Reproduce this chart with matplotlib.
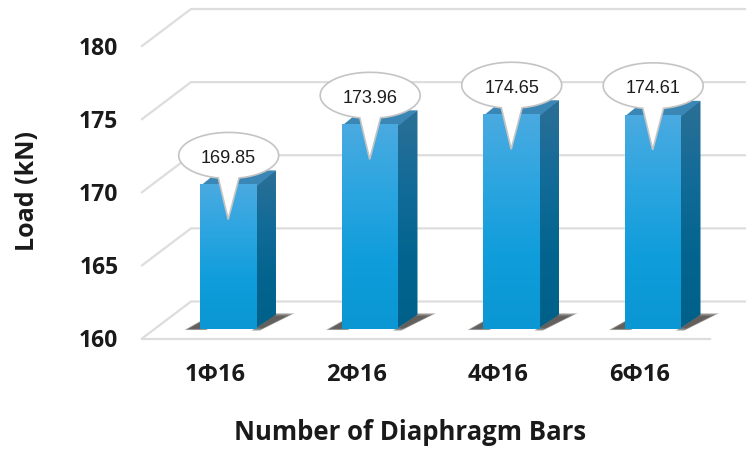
import matplotlib

matplotlib.use("Agg")
import matplotlib.pyplot as plt
import numpy as np
from matplotlib.patches import Polygon, PathPatch
from matplotlib.path import Path
from matplotlib.colors import LinearSegmentedColormap
from matplotlib.transforms import Affine2D

# --- data ---
categories = ["1Φ16", "2Φ16", "4Φ16", "6Φ16"]
loads = [169.85, 173.96, 174.65, 174.61]
y_ticks = [160, 165, 170, 175, 180]
y_label = "Load (kN)"
x_label = "Number of Diaphragm Bars"

W, H = 746, 452
plt.rcParams["font.family"] = ["Open Sans", "DejaVu Sans"]

fig = plt.figure(figsize=(W / 100, H / 100), dpi=100, facecolor="white")
# front plane of the fake 3d box
ax = fig.add_axes([142 / W, 1 - 339.5 / H, 568 / W, 292.5 / H])
ax.set_xlim(-0.519, 3.495)
ax.set_ylim(160, 180)
ax.patch.set_alpha(0)
for s in ax.spines.values():
    s.set_visible(False)
ax.set_xticks(range(len(categories)))
ax.set_xticklabels(categories, fontsize=17, fontweight="bold", color="#1a1a1a")
ax.set_yticks(y_ticks)
ax.set_yticklabels(y_ticks, fontsize=16.5, fontweight="bold", color="#1a1a1a")
ax.tick_params(axis="both", length=0)
ax.tick_params(axis="x", pad=17)
ax.tick_params(axis="y", pad=17)
for lab in ax.get_yticklabels():
    lab.set_verticalalignment("center")
    lab.set_transform(lab.get_transform() + Affine2D().translate(0, -2))
ax.set_zorder(3)

# overlay in pixels, all the 3d stuff goes here
ov = fig.add_axes([0, 0, 1, 1], zorder=1)
ov.axis("off")

FLOOR_DX, FLOOR_DY = 49, 37
BAR_DX, BAR_DY = 19, 14
BAR_IN = 10 / 37  # bars stand this far back on the floor
BAR_W = 0.40


def to_px(x, y, depth=0.0):
    p = ax.transData.transform((x, y))
    return np.array([p[0] + depth * FLOOR_DX, p[1] + depth * FLOOR_DY])


def grad_poly(verts, stops, zorder):
    cmap = LinearSegmentedColormap.from_list("g", stops)
    verts = np.array(verts)
    x0, x1 = verts[:, 0].min(), verts[:, 0].max()
    y0, y1 = verts[:, 1].min(), verts[:, 1].max()
    im = ov.imshow(
        np.linspace(0, 1, 256).reshape(-1, 1),
        cmap=cmap,
        extent=(x0, x1, y0, y1),
        origin="upper",
        aspect="auto",
        zorder=zorder,
    )
    patch = Polygon(verts, closed=True, transform=ov.transData, fc="none", ec="none")
    ov.add_patch(patch)
    im.set_clip_path(patch)


def soft_poly(verts, zorder):
    # no real blur here, a few wider see-through copies look close enough
    verts = np.array(verts)
    mid = verts.mean(axis=0)
    for k in (1.18, 1.08, 1.0, 0.9, 0.78):
        ov.add_patch(Polygon(mid + (verts - mid) * k, closed=True, fc="#3f3b36",
                             ec="none", alpha=0.28, zorder=zorder))


grid_c = "#dddddd"
x_l, x_r = ax.get_xlim()
for v in y_ticks:
    a, b, c = to_px(x_l, v), to_px(x_l, v, 1), to_px(x_r, v, 1)
    ov.plot([a[0], b[0], c[0]], [a[1], b[1], c[1]], color=grid_c, lw=1.6, zorder=1)
a, b = to_px(x_l, 160), to_px(x_r, 160)
ov.plot([a[0], b[0]], [a[1], b[1]], color=grid_c, lw=1.6, zorder=1)

top_stops = ["#4aaae0", "#2ba5e0", "#0f9ddb", "#0a97d3"]
side_stops = ["#2b6f96", "#136b98", "#03658f", "#00608a"]

for i, val in enumerate(loads):
    xa, xb = i - BAR_W / 2, i + BAR_W / 2
    bl, br = to_px(xa, 160, BAR_IN), to_px(xb, 160, BAR_IN)
    tl, tr = to_px(xa, val, BAR_IN), to_px(xb, val, BAR_IN)
    d = np.array([BAR_DX, BAR_DY])
    under = np.array([-1.5, 0])  # side and top run under the front, no white seam

    # shadow on the floor
    soft_poly([bl + (-14, -1), bl + (2, 8), bl + (6, -1)], 2)
    soft_poly([br + (-3, -1), br + d + (-2, 0), br + d + (15, 0), br + (4, -1)], 2)

    grad_poly([tr + under, tr + d, br + d, br + under], side_stops, 3)
    ov.add_patch(Polygon([tl + (0, -1.5), tr + (0, -1.5), tr + d, tl + d], closed=True,
                         fc="#3a86b4", ec="none", zorder=3))
    grad_poly([tl, tr, br, bl], top_stops, 3.5)

    # callout, ellipse + spike down into the bar
    cx = (tl[0] + tr[0]) / 2
    cy = tl[1] + 29
    t = np.linspace(np.deg2rad(-78), np.deg2rad(258), 90)
    ell_x = cx + 50 * np.cos(t)
    ell_y = cy + 23 * np.sin(t)
    tip = (cx - 0.5, tl[1] - 35)
    verts = list(zip(ell_x, ell_y)) + [tip, (ell_x[0], ell_y[0])]
    codes = [Path.MOVETO] + [Path.LINETO] * (len(verts) - 2) + [Path.CLOSEPOLY]
    ov.add_patch(PathPatch(Path(verts, codes), fc="white", ec="#c4c4c4", lw=1.2, zorder=4))
    ov.text(cx, cy - 2, f"{val:.2f}", ha="center", va="center", fontsize=13,
            color="#1c1c1c", family=["Liberation Sans"], zorder=5)

ov.set_xlim(0, W)
ov.set_ylim(0, H)

fig.text(27 / W, 1 - 191 / H, y_label, rotation=90, ha="center", va="center",
         fontsize=18, fontweight="bold", color="#1a1a1a")
fig.text(410 / W, 1 - 433 / H, x_label, ha="center", va="center",
         fontsize=18.5, fontweight="bold", color="#1a1a1a")

fig.savefig("out.png", dpi=100)
plt.close(fig)
